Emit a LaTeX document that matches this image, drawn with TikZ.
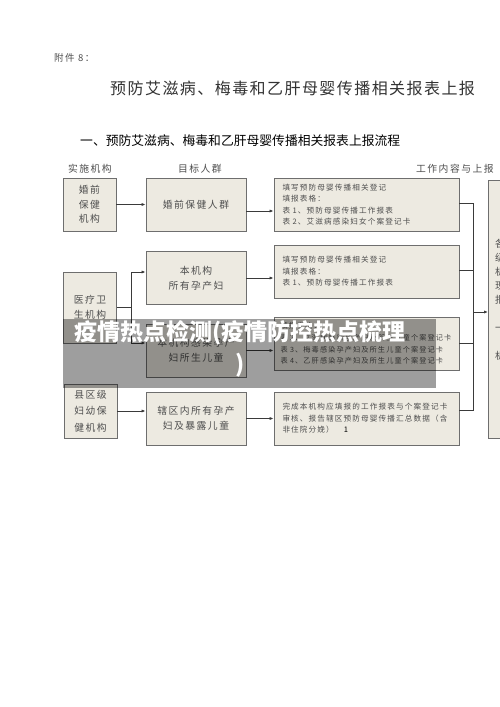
\documentclass[tikz,border=0pt]{standalone}
\usepackage{fontspec}
\usetikzlibrary{positioning,arrows.meta,calc}
\setmainfont{Noto Sans CJK SC}
\newfontfamily\spfont{Noto Sans CJK SC}[LetterSpace=15]
\newfontfamily\ttlfont{Noto Sans CJK SC}[LetterSpace=9]
\definecolor{boxfill}{HTML}{EDEAE1}
\definecolor{boxline}{HTML}{6E6E6E}
\definecolor{linkgray}{HTML}{3A3A3A}
\definecolor{txtgray}{HTML}{4E4E4E}
\tikzset{
    cell/.style={draw=boxline,fill=boxfill,line width=0.9pt,text=txtgray,inner sep=2pt},
    orgbox/.style={cell,minimum width=53pt,minimum height=53pt,align=center,
        font=\spfont\fontsize{9.8}{14.5}\selectfont},
    grpbox/.style={cell,minimum width=100pt,minimum height=53pt,align=center,
        font=\spfont\fontsize{9.8}{15}\selectfont},
    workbox/.style={cell,minimum width=185pt,minimum height=53pt,text width=168pt,
        inner xsep=8.5pt,align=left,font=\spfont\fontsize{7.6}{11.4}\selectfont},
    colhead/.style={text=txtgray,inner sep=0pt,font=\spfont\fontsize{9.8}{12}\selectfont},
    link/.style={draw=linkgray,line width=0.9pt},
    arrow/.style={link,-{Latex[length=4pt,width=3.2pt]}},
}

\begin{document}
\begin{tikzpicture}[x=1pt,y=-1pt]
    \useasboundingbox (0,0) rectangle (500,707);
    \clip (0,0) rectangle (500,707);
    \fill[white] (0,0) rectangle (500,707);

    % headings
    \node[anchor=west,inner sep=0pt,text=txtgray,font=\spfont\fontsize{9.5}{12}\selectfont] (annex) at (54,58) {附件 8：};
    \node[anchor=west,inner sep=0pt,text=black!80,font=\ttlfont\fontsize{16}{20}\selectfont] (title) at (110,88) {预防艾滋病、梅毒和乙肝母婴传播相关报表上报};
    \node[anchor=west,inner sep=0pt,font=\fontsize{12.8}{15}\selectfont] (flow) at (80,141) {一、预防艾滋病、梅毒和乙肝母婴传播相关报表上报流程};
    \node[colhead] (hdorg) at (90,169) {实施机构};
    \node[colhead] (hdgrp) at (200,169) {目标人群};
    \node[colhead,anchor=west] (hdwork) at (416,169) {工作内容与上报};

    % institutions
    \node[orgbox] (hq) at (89.5,204.5) {婚前\\保健\\机构};
    \node[orgbox,minimum height=71pt] (yl) at (90,307.5) {医疗卫\\生机构};
    \node[orgbox,minimum height=54pt,font=\spfont\fontsize{9.8}{16.5}\selectfont] (xq) at (90.5,411) {县区级\\妇幼保\\健机构};

    % target groups
    \node[grpbox] (t1) at (196,204.5) {婚前保健人群};
    \node[grpbox] (t2) at (196,278) {本机构\\所有孕产妇};
    \node[grpbox] (t3) at (196,350.5) {本机构感染孕产\\妇所生儿童};
    \node[grpbox] (t4) at (196,418.5) {辖区内所有孕产\\妇及暴露儿童};

    % work and report
    \node[workbox] (w1) at (366.5,204.5) {填写预防母婴传播相关登记\\填报表格：\\表~1、预防母婴传播工作报表\\表~2、艾滋病感染妇女个案登记卡};
    \node[workbox] (w2) at (366.5,271.5) {填写预防母婴传播相关登记\\填报表格：\\表~1、预防母婴传播工作报表};
    \node[workbox,text width=172pt,inner xsep=6.5pt,font=\spfont\fontsize{7.2}{11.6}\selectfont] (w3) at (366.5,343.5) {填报表格：\\表~2、艾滋病感染孕产妇及所生儿童个案登记卡\\表~3、梅毒感染孕产妇及所生儿童个案登记卡\\表~4、乙肝感染孕产妇及所生儿童个案登记卡};
    \node[workbox] (w4) at (366.5,418.5) {完成本机构应填报的工作报表与个案登记卡\\审核、报告辖区预防母婴传播汇总数据（含\\非住院分娩）\hspace{10pt}{\color{black}1}};
    \node[cell,anchor=north west,minimum width=40pt,minimum height=258pt] (rep) at (488,180) {};
    \node[anchor=north west,inner sep=0pt,align=left,text=txtgray,font=\spfont\fontsize{9.8}{14}\selectfont] (reptxt) at (495,239) {各\\级\\机\\现\\报\\ \\一\\ \\机};

    % connectors
    \coordinate (ylbus) at (131,307.5);
    \coordinate (wbus) at (473,312);
    \draw[arrow] (hq.east) -- (hq.east -| t1.west);
    \draw[arrow] ([yshift=-6.5pt]t1.east) -- ([yshift=-6.5pt]w1.west);
    \draw[link] (yl.east) -- (ylbus);
    \draw[arrow] (ylbus) |- ([yshift=6pt]t2.west);
    \draw[arrow] (ylbus) |- ([yshift=7.5pt]t3.west);
    \draw[arrow] (t2.east) -- (t2.east -| w2.west);
    \draw[arrow] (t3.east) -- (t3.east -| w3.west);
    \draw[arrow] (xq.east) -- (xq.east -| t4.west);
    \draw[arrow] (t4.east) -- (w4.west);
    \draw[link] ([yshift=1.5pt]w1.east) -| (wbus);
    \draw[link] ([yshift=1.5pt]w2.east) -| (wbus);
    \draw[link] (w3.east) -| (wbus);
    \draw[link] ([yshift=8.5pt]w4.east) -| (wbus);
    \draw[arrow] (wbus) -- (wbus -| rep.west);

    % overlay band
    \node[anchor=north west,fill=black,fill opacity=0.38,minimum width=373pt,minimum height=69pt,inner sep=0pt] (band) at (63,319) {};
    \node[text=white,align=center,inner sep=0pt,font=\bfseries\fontsize{23}{32}\selectfont] (bandtxt) at (240,349) {疫情热点检测(疫情防控热点梳理\\)};
\end{tikzpicture}
\end{document}
